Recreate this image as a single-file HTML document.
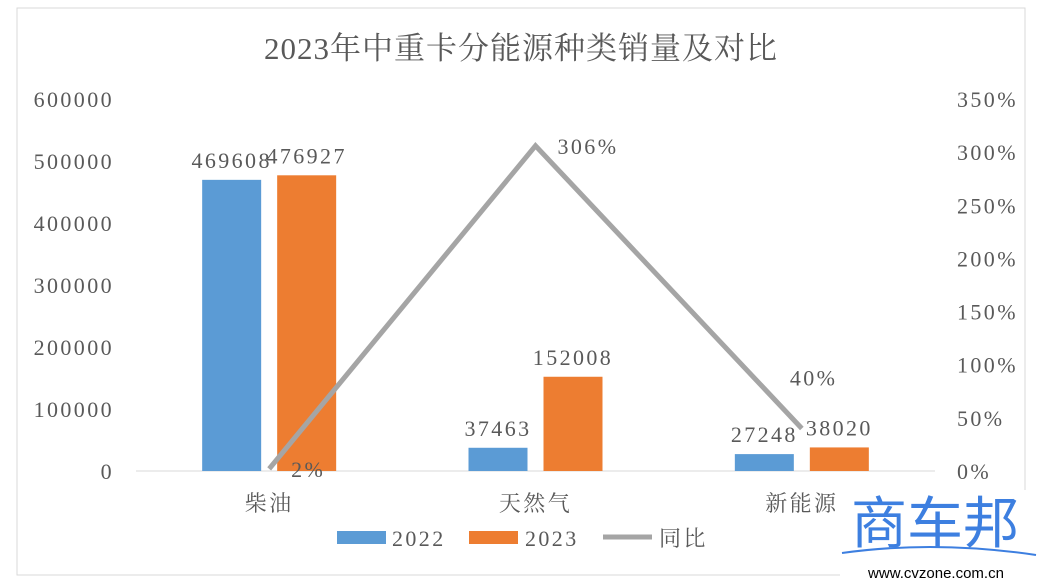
<!DOCTYPE html>
<html><head><meta charset="utf-8"><style>
html,body{margin:0;padding:0;background:#fff;width:1039px;height:583px;overflow:hidden}
svg text{font-family:"Liberation Serif","Noto Serif CJK SC",serif;fill:#595959;letter-spacing:2.4px}
</style></head><body>
<svg id="c" width="1039" height="583" xmlns="http://www.w3.org/2000/svg">
<rect x="17" y="8" width="1008" height="567" fill="#fff" stroke="#d9d9d9"/>
<text x="521" y="59" font-size="31" text-anchor="middle" style="letter-spacing:1px">2023年中重卡分能源种类销量及对比</text>
<g id="ax"></g><g id="marks"></g>
<g>
<rect x="337" y="531" width="49" height="13" fill="#5b9bd5"/>
<text x="392" y="546" font-size="22">2022</text>
<rect x="469" y="531" width="49" height="13" fill="#ed7d31"/>
<text x="525" y="546" font-size="22">2023</text>
<line x1="603" y1="537" x2="652" y2="537" stroke="#a5a5a5" stroke-width="5"/>
<text x="659" y="546" font-size="22">同比</text>
</g>
<g>
<rect x="840" y="490" width="199" height="92" fill="#fff"/>
<text x="935" y="543" font-size="56" text-anchor="middle" style="fill:#3d7fe0;font-family:'Noto Sans CJK SC',sans-serif;letter-spacing:0">商车邦</text>
<path d="M842 553 Q935 540 1036 555" stroke="#3d7fe0" stroke-width="2" fill="none"/>
<text x="936" y="578" font-size="15" text-anchor="middle" style="fill:#000;font-family:'Liberation Sans',sans-serif;letter-spacing:0">www.cvzone.com.cn</text>
</g>
</svg>
<script>
const categories=["柴油","天然气","新能源"];
const sales2022=[469608,37463,27248];
const sales2023=[476927,152008,38020];
const yoy=[2,306,40];
const leftTicks=[0,100000,200000,300000,400000,500000,600000];
const rightTicks=[0,50,100,150,200,250,300,350];
const NS="http://www.w3.org/2000/svg";
const y0=471,yTop=99,xL=136,xR=935;
const yL=v=>y0-(v/600000)*(y0-yTop);
const yR=v=>y0-(v/350)*(y0-yTop);
const cx=i=>xL+(xR-xL)*(i+0.5)/categories.length;
function mk(tag,attrs,parent,txt){const e=document.createElementNS(NS,tag);for(const k in attrs)e.setAttribute(k,attrs[k]);if(txt!==undefined)e.textContent=txt;parent.appendChild(e);return e;}
const ax=document.getElementById('ax'),m=document.getElementById('marks');
let b=mk('line',{x1:xL,x2:xR,y1:y0,y2:y0,stroke:'#d9d9d9'},ax);


leftTicks.forEach(v=>{const t=mk('text',{x:114,y:yL(v)+8,'font-size':22,'text-anchor':'end'},ax,String(v));

});
rightTicks.forEach(v=>{const t=mk('text',{x:957,y:yR(v)+8,'font-size':22},ax,v+'%');

});
categories.forEach((c,i)=>{const t=mk('text',{x:cx(i),y:511,'font-size':22,'text-anchor':'middle'},ax,c);

});
const bw=59,gap=16;
categories.forEach((c,i)=>{
 const x1=cx(i)-gap/2-bw,x2=cx(i)+gap/2;
 const r1=mk('rect',{x:x1,y:yL(sales2022[i]),width:bw,height:y0-yL(sales2022[i]),fill:'#5b9bd5'},m);
 
 
 const r2=mk('rect',{x:x2,y:yL(sales2023[i]),width:bw,height:y0-yL(sales2023[i]),fill:'#ed7d31'},m);
 
 
 const l1=mk('text',{x:x1+bw/2,y:yL(sales2022[i])-12,'font-size':22,'text-anchor':'middle'},m,String(sales2022[i]));
 
 
 const l2=mk('text',{x:x2+bw/2,y:yL(sales2023[i])-12,'font-size':22,'text-anchor':'middle'},m,String(sales2023[i]));
 
 
});
const pts=yoy.map((v,i)=>cx(i)+','+yR(v)).join(' ');
const pl=mk('polyline',{points:pts,fill:'none',stroke:'#a5a5a5','stroke-width':5},m);


yoy.forEach((v,i)=>{
 const off=[[22,8],[22,8],[-12,-43]][i];
 const t=mk('text',{x:cx(i)+off[0],y:yR(v)+off[1],'font-size':22},m,v+'%');
 
 
});
</script>
</body></html>
